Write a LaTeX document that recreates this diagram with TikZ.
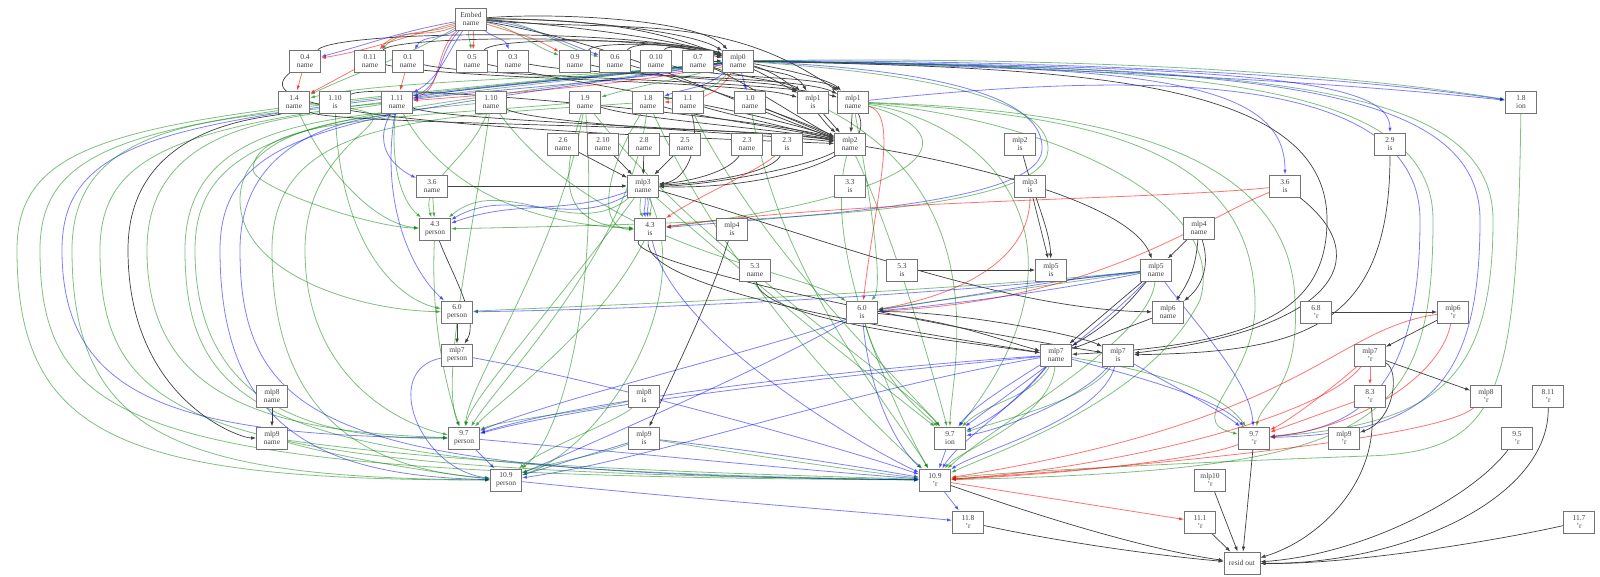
\documentclass[tikz,border=0pt]{standalone}
\usepackage{fontspec}
\setmainfont{Liberation Serif}
\usetikzlibrary{arrows.meta}
\pgfdeclarelayer{bg}
\pgfsetlayers{bg,main}
\newcommand\LLoop[6]{\draw[#1] (#2) .. controls ({#4+150},118) and ({#4},118) .. ({#4},#6) .. controls ({#4},{#5-40}) and ({#4+110},{#5}) .. (#3);}
\newcommand\RLoop[5]{\draw[#1] (#2) .. controls ({#4-250},68) and ({#4},78) .. ({#4},220) .. controls ({#4},{#5-40}) and ({#4-60},{#5}) .. (#3);}
\begin{document}
\begin{tikzpicture}[x=1pt,y=-1pt,
  bx/.style={draw=black!55, line width=0.8pt, fill=white, minimum width=31pt, minimum height=22pt, inner sep=0pt, align=center, font=\fontsize{7.5}{8.3}\selectfont, text=black!75},
  tip/.style={-{Latex[length=5pt,width=3.6pt]}},
  eK/.style={tip, draw=black!75, line width=0.7pt},
  eG/.style={tip, draw=green!50!black, line width=0.8pt, opacity=0.5},
  eB/.style={tip, draw=blue, line width=0.8pt, opacity=0.5},
  eR/.style={tip, draw=red, line width=0.8pt, opacity=0.55}]
\useasboundingbox (0,0) rectangle (1600,576);
% nodes
\node[bx] (E) at (471,19) {Embed\\name};
\node[bx] (n04) at (305,61) {0.4\\name};
\node[bx] (n011) at (370,61) {0.11\\name};
\node[bx] (n01) at (408,61) {0.1\\name};
\node[bx] (n05) at (472,61) {0.5\\name};
\node[bx] (n03) at (513,61) {0.3\\name};
\node[bx] (n09) at (575,61) {0.9\\name};
\node[bx] (n06) at (615,61) {0.6\\name};
\node[bx] (n010) at (656,61) {0.10\\name};
\node[bx] (n07) at (698,61) {0.7\\name};
\node[bx] (m0) at (738,61) {mlp0\\name};
\node[bx] (n14) at (294,102) {1.4\\name};
\node[bx] (n110i) at (335,102) {1.10\\is};
\node[bx] (n111) at (397,102) {1.11\\name};
\node[bx] (n110) at (491,102) {1.10\\name};
\node[bx] (n19) at (585,102) {1.9\\name};
\node[bx] (n18) at (648,102) {1.8\\name};
\node[bx] (n11) at (688,102) {1.1\\name};
\node[bx] (n10) at (750,102) {1.0\\name};
\node[bx] (m1i) at (813,102) {mlp1\\is};
\node[bx] (m1) at (853,102) {mlp1\\name};
\node[bx] (n18ion) at (1521,102) {1.8\\ion};
\node[bx] (n26) at (563,144) {2.6\\name};
\node[bx] (n210) at (603,144) {2.10\\name};
\node[bx] (n28) at (644,144) {2.8\\name};
\node[bx] (n25) at (685,144) {2.5\\name};
\node[bx] (n23) at (747,144) {2.3\\name};
\node[bx] (n23i) at (787,144) {2.3\\is};
\node[bx] (m2) at (850,144) {mlp2\\name};
\node[bx] (m2i) at (1020,144) {mlp2\\is};
\node[bx] (n29i) at (1390,144) {2.9\\is};
\node[bx] (n36) at (432,186) {3.6\\name};
\node[bx] (m3) at (643,186) {mlp3\\name};
\node[bx] (n33i) at (850,186) {3.3\\is};
\node[bx] (m3i) at (1030,186) {mlp3\\is};
\node[bx] (n36i) at (1285,186) {3.6\\is};
\node[bx] (n43p) at (435,229) {4.3\\person};
\node[bx] (n43i) at (650,229) {4.3\\is};
\node[bx] (m4i) at (732,229) {mlp4\\is};
\node[bx] (m4) at (1199,228) {mlp4\\name};
\node[bx] (n53) at (755,270) {5.3\\name};
\node[bx] (n53i) at (902,270) {5.3\\is};
\node[bx] (m5i) at (1051,270) {mlp5\\is};
\node[bx] (m5) at (1156,270) {mlp5\\name};
\node[bx] (n60p) at (457,312) {6.0\\person};
\node[bx] (n60i) at (862,312) {6.0\\is};
\node[bx] (m6) at (1168,312) {mlp6\\name};
\node[bx] (n68r) at (1316,312) {6.8\\'r};
\node[bx] (m6r) at (1453,312) {mlp6\\'r};
\node[bx] (m7p) at (457,355) {mlp7\\person};
\node[bx] (m7) at (1056,355) {mlp7\\name};
\node[bx] (m7i) at (1118,355) {mlp7\\is};
\node[bx] (m7r) at (1370,355) {mlp7\\'r};
\node[bx] (m8) at (272,396) {mlp8\\name};
\node[bx] (m8i) at (644,396) {mlp8\\is};
\node[bx] (n83r) at (1370,396) {8.3\\'r};
\node[bx] (m8r) at (1486,396) {mlp8\\'r};
\node[bx] (n811r) at (1548,396) {8.11\\'r};
\node[bx] (m9) at (272,438) {mlp9\\name};
\node[bx] (n97p) at (464,438) {9.7\\person};
\node[bx] (m9i) at (644,438) {mlp9\\is};
\node[bx] (n97ion) at (950,438) {9.7\\ion};
\node[bx] (n97r) at (1254,438) {9.7\\'r};
\node[bx] (m9r) at (1344,438) {mlp9\\'r};
\node[bx] (n95r) at (1517,438) {9.5\\'r};
\node[bx] (n109p) at (506,480) {10.9\\person};
\node[bx] (n109r) at (935,480) {10.9\\'r};
\node[bx] (m10r) at (1210,480) {mlp10\\'r};
\node[bx] (n118r) at (968,522) {11.8\\'r};
\node[bx] (n111r) at (1200,522) {11.1\\'r};
\node[bx] (n117r) at (1579,522) {11.7\\'r};
\node[bx, minimum width=36pt] (out) at (1242,563) {resid out};
\begin{pgfonlayer}{bg}
\fill[white] (0,0) rectangle (1600,576);
% Embed
\draw[eB] (E) to[out=190,in=15] (n04);
\draw[eR] (E) to[out=195,in=10] (n04);
\draw[eG] (E) to[out=200,in=45] (n011);
\draw[eR] (E) to[out=205,in=50] (n011);
\draw[eB] (E) to[out=215,in=60] (n01);
\draw[eG] (E) to[out=260,in=95] (n05);
\draw[eR] (E) to[out=280,in=85] (n05);
\draw[eB] (E) to[out=-40,in=110] (n03);
\draw[eG] (E) to[out=-12,in=160] (n09);
\draw[eR] (E) to[out=-18,in=150] (n09);
\draw[eB] (E) to[out=-6,in=160] (n06);
\draw[eG] (E) to[out=-2,in=165] (n06);
\draw[eB] (E) to[out=225,in=20] (n111);
\draw[eB] (E) to[out=235,in=30] (n111);
\draw[eR] (E) to[out=220,in=15] (n111);
\draw[eG] (E) to[out=210,in=25] (n14);
\draw[eK] (E) .. controls (560,12) and (700,20) .. (m0);
\draw[eK] (E) .. controls (560,18) and (690,30) .. (m0);
\draw[eK] (E) .. controls (560,24) and (680,40) .. (m0);
\draw[eK] (E) to[out=0,in=150] (m1i);
\draw[eK] (E) to[out=-5,in=145] (m1);
\draw[eK] (E) to[out=-10,in=160] (m2);
% row1 -> mlp0
\draw[eK] (n04) .. controls (340,30) and (640,28) .. (m0);
\draw[eK] (n011) .. controls (400,35) and (650,34) .. (m0);
\draw[eK] (n05) .. controls (500,35) and (690,40) .. (m0);
\draw[eK] (n09) .. controls (600,40) and (700,45) .. (m0);
\draw[eK] (n06) .. controls (640,38) and (700,50) .. (m0);
\draw[eK] (n010) .. controls (670,42) and (710,55) .. (m0);
\draw[eK] (n07) -- (m0);
% row1 -> mlp1 / mlp2
\draw[eK] (n04) .. controls (255,100) and (320,125) .. (m2);
\draw[eK] (n011) .. controls (450,80) and (740,80) .. (m1i);
\draw[eK] (n01) .. controls (480,78) and (780,80) .. (m1);
\draw[eK] (n05) .. controls (560,80) and (760,110) .. (m2);
\draw[eK] (n03) .. controls (600,78) and (800,75) .. (m1);
\draw[eK] (n09) .. controls (650,80) and (780,80) .. (m1i);
\draw[eK] (n06) .. controls (700,85) and (800,120) .. (m2);
\draw[eK] (n010) .. controls (720,80) and (820,75) .. (m1);
\draw[eK] (n07) .. controls (740,78) and (790,82) .. (m1i);
\draw[eK] (n07) .. controls (750,85) and (810,125) .. (m2);
\draw[eK] (m0) .. controls (790,70) and (830,80) .. (m1);
\draw[eK] (m0) to[out=-20,in=120] (m1i);
\draw[eK] (m0) .. controls (800,80) and (820,120) .. (m2);
% row2 -> mlp2
\draw[eK] (n14) .. controls (330,125) and (760,125) .. (m2);
\draw[eK] (n110i) .. controls (380,80) and (780,120) .. (m2);
\draw[eK] (n111) .. controls (450,122) and (780,130) .. (m2);
\draw[eK] (n110) .. controls (540,125) and (780,135) .. (m2);
\draw[eK] (n19) .. controls (640,120) and (790,130) .. (m2);
\draw[eK] (n18) .. controls (700,118) and (800,130) .. (m2);
\draw[eK] (n11) .. controls (730,115) and (800,130) .. (m2);
\draw[eK] (n10) -- (m2);
\draw[eK] (m1i) -- (m2);
\draw[eK] (m1) -- (m2);
% -> mlp3
\draw[eK] (n26) -- (m3);
\draw[eK] (n210) -- (m3);
\draw[eK] (n28) -- (m3);
\draw[eK] (n25) -- (m3);
\draw[eK] (n23) .. controls (730,170) and (700,180) .. (m3);
\draw[eK] (n23i) .. controls (770,175) and (700,183) .. (m3);
\draw[eK] (m2) .. controls (800,170) and (700,186) .. (m3);
\draw[eK] (n36) -- (m3);
\draw[eK] (n11) .. controls (700,140) and (690,180) .. (m3);
\draw[eK] (m1) .. controls (880,160) and (760,190) .. (m3);
% mlp0 -> row2 coloured
\draw[eB] (m0) .. controls (650,80) and (480,90) .. (n111);
\draw[eB] (m0) .. controls (640,75) and (470,85) .. (n111);
\draw[eR] (m0) .. controls (640,85) and (480,95) .. (n111);
\draw[eR] (n01) -- (n111);
\draw[eG] (m0) .. controls (700,75) and (640,85) .. (n19);
\draw[eB] (m0) to[out=220,in=20] (n18);
\draw[eG] (m0) to[out=230,in=10] (n18);
\draw[eR] (m0) to[out=240,in=0] (n18);
\draw[eB] (m0) -- (n10);
\draw[eG] (m0) .. controls (600,78) and (380,80) .. (n14);
\draw[eR] (n04) -- (n14);
\draw[eR] (n011) -- (n14);
% mlp0 far right
\draw[eB] (m0) .. controls (1000,60) and (1300,70) .. (n18ion);
\draw[eG] (m0) .. controls (1000,57) and (1300,66) .. (n18ion);
\draw[eB] (m0) .. controls (1000,66) and (1300,78) .. (n18ion);
\draw[eB] (m0) .. controls (1250,66) and (1390,80) .. (n29i);
\draw[eB] (m0) .. controls (1150,66) and (1285,80) .. (n36i);
\draw[eB] (m0) .. controls (950,70) and (1045,100) .. (1042,150) .. controls (1038,205) and (800,215) .. (n43i);
\draw[eG] (m0) .. controls (950,75) and (1050,105) .. (1048,150) .. controls (1045,210) and (800,222) .. (n43p);
\RLoop{eB}{m0}{n97r}{1480}{433}
\RLoop{eB}{m1}{n97r}{1420}{428}
\RLoop{eG}{m0}{n97r}{1493}{424}
\RLoop{eG}{m0}{n109r}{1433}{470}
\RLoop{eK}{m0}{m7}{1327}{345}
\draw[eK] (n29i) .. controls (1390,330) and (1300,352) .. (m7i);
\draw[eK] (n36i) .. controls (1380,260) and (1330,330) .. (m7i);
\draw[eG] (n18ion) .. controls (1517,400) and (1500,452) .. (1367,456) .. controls (1200,462) and (1000,472) .. (n109r);
% mlp1 bundle
\draw[eG] (m1) .. controls (1100,110) and (1290,150) .. (1295,300) .. controls (1300,390) and (1262,400) .. (n97r);
\draw[eG] (m1) .. controls (1100,115) and (1250,150) .. (1255,300) .. controls (1258,380) and (1180,420) .. (n97r);
\draw[eG] (m1) .. controls (1050,120) and (1230,200) .. (1200,300) .. controls (1150,400) and (1000,450) .. (n109r);
\draw[eG] (m1) .. controls (1000,125) and (1100,250) .. (n97ion);
\draw[eG] (m1) .. controls (960,130) and (960,190) .. (n43i);
\draw[eR] (m1) .. controls (900,115) and (875,200) .. (n60i);
\draw[eG] (m1) .. controls (880,250) and (880,290) .. (n60i);
% reds into 4.3 is / 6.0 is
\draw[eR] (n23i) .. controls (760,170) and (700,195) .. (n43i);
\draw[eR] (n36i) .. controls (1150,200) and (850,200) .. (n43i);
\draw[eR] (m3i) .. controls (1030,260) and (960,295) .. (n60i);
\draw[eR] (n36i) .. controls (1200,220) and (1100,300) .. (n60i);
% mlp3 -> 4.3
\draw[eB] (m3) to[out=200,in=20] (n43p);
\draw[eB] (m3) to[out=210,in=30] (n43p);
\draw[eG] (m3) to[out=220,in=40] (n43p);
\draw[eB] (m3) to[out=-80,in=110] (n43i);
\draw[eB] (m3) to[out=-70,in=100] (n43i);
\draw[eG] (m3) to[out=-60,in=90] (n43i);
\draw[eG] (m3) to[out=-100,in=120] (n43i);
\draw[eG] (n36) -- (n43p);
\draw[eG] (n14) .. controls (330,180) and (380,225) .. (n43p);
\draw[eG] (n111) .. controls (390,160) and (400,200) .. (n43p);
\draw[eG] (n110) .. controls (470,160) and (420,180) .. (n43p);
\draw[eG] (n111) .. controls (450,200) and (550,225) .. (n43i);
\draw[eG] (n19) .. controls (560,180) and (560,225) .. (n43i);
\draw[eG] (n18) .. controls (600,180) and (600,230) .. (n43i);
% 6.0
\draw[eB] (n111) .. controls (380,200) and (410,270) .. (n60p);
\draw[eB] (n111) .. controls (370,150) and (400,170) .. (n36);
\draw[eB] (m5) .. controls (900,300) and (600,310) .. (n60p);
\draw[eG] (m5) .. controls (900,295) and (600,305) .. (n60p);
\draw[eG] (n110i) .. controls (340,250) and (400,300) .. (n60p);
\draw[eB] (m5) .. controls (1050,280) and (950,300) .. (n60i);
\draw[eB] (m5) .. controls (1060,290) and (950,305) .. (n60i);
\draw[eG] (m5) .. controls (1050,285) and (940,300) .. (n60i);
\draw[eG] (n110) .. controls (600,250) and (800,270) .. (n60i);
% black middle
\draw[eK] (n43p) .. controls (450,270) and (480,320) .. (m7p);
\draw[eK] (n60p) -- (m7p);
\draw[eK] (n43i) .. controls (640,290) and (900,330) .. (m7);
\draw[eK] (n43i) .. controls (620,260) and (900,320) .. (m7i);
\draw[eK] (m4i) .. controls (710,300) and (680,360) .. (m9i);
\draw[eK] (n53) .. controls (760,320) and (950,340) .. (m7);
\draw[eK] (n53i) -- (m5i);
\draw[eK] (m2i) .. controls (1035,200) and (1050,230) .. (m5i);
\draw[eK] (m3i) -- (m5i);
\draw[eK] (m4) -- (m5);
\draw[eK] (m4) to[bend left=15] (m6);
\draw[eK] (m4) to[bend left=35] (m6);
\draw[eK] (m2) .. controls (950,160) and (1130,200) .. (m5);
\draw[eK] (m3) .. controls (800,230) and (1000,310) .. (m6);
\draw[eK] (m5) -- (m7);
\draw[eK] (m5) to[bend left=10] (m7);
\draw[eK] (m6) -- (m7);
\draw[eK] (n60i) .. controls (950,320) and (1000,340) .. (m7);
\draw[eK] (n60i) .. controls (950,310) and (1080,335) .. (m7i);
\draw[eK] (n68r) -- (m6r);
\draw[eK] (m6r) -- (m7r);
\draw[eK] (m7r) -- (m8r);
\draw[eK] (m7r) .. controls (1400,370) and (1395,420) .. (m9r);
\draw[eK] (m8) -- (m9);
\LLoop{eK}{n14}{m9}{128}{438}{250}
% resid out
\draw[eK] (n97r) -- (out);
\draw[eK] (m10r) -- (out);
\draw[eK] (n111r) -- (out);
\draw[eK] (n118r) .. controls (1050,540) and (1150,555) .. (out);
\draw[eK] (n109r) .. controls (1050,520) and (1150,550) .. (out);
\draw[eK] (n83r) .. controls (1380,480) and (1320,540) .. (out);
\draw[eK] (n95r) .. controls (1470,500) and (1360,555) .. (out);
\draw[eK] (n811r) .. controls (1550,500) and (1400,565) .. (out);
\draw[eK] (n117r) .. controls (1500,540) and (1350,565) .. (out);
% reds right
\draw[eR] (m6r) .. controls (1440,380) and (1350,430) .. (n97r);
\draw[eR] (m6r) .. controls (1330,330) and (1310,420) .. (n109r);
\draw[eR] (m7r) -- (n83r);
\draw[eR] (m7r) .. controls (1330,390) and (1290,420) .. (n97r);
\draw[eR] (n83r) -- (n97r);
\draw[eR] (m8r) .. controls (1440,440) and (1100,470) .. (n109r);
\draw[eR] (m7r) .. controls (1320,420) and (1100,470) .. (n109r);
\draw[eR] (n97r) .. controls (1200,460) and (1050,475) .. (n109r);
\draw[eR] (n109r) -- (n111r);
% lower middle
\draw[eB] (m7) .. controls (900,370) and (600,400) .. (n97p);
\draw[eB] (m7) .. controls (900,365) and (600,395) .. (n97p);
\draw[eB] (m7) .. controls (850,390) and (650,460) .. (n109p);
\draw[eB] (m7) .. controls (1000,390) and (970,410) .. (n97ion);
\draw[eB] (m7) .. controls (1020,400) and (990,420) .. (n97ion);
\draw[eG] (m7) .. controls (1030,400) and (990,400) .. (n97ion);
\draw[eB] (m7) .. controls (1010,410) and (960,440) .. (n109r);
\draw[eG] (m7) .. controls (1050,420) and (960,450) .. (n109r);
\draw[eB] (m7) .. controls (1150,380) and (1220,400) .. (n97r);
\draw[eG] (m7) .. controls (1150,370) and (1220,390) .. (n97r);
\draw[eB] (m7i) .. controls (1180,390) and (1220,410) .. (n97r);
\draw[eB] (m7i) .. controls (1080,400) and (1000,430) .. (n97ion);
\draw[eB] (m7i) .. controls (1100,420) and (980,450) .. (n109r);
\draw[eG] (m7i) .. controls (1090,400) and (1000,420) .. (n97ion);
\draw[eB] (m5) .. controls (1200,330) and (1250,380) .. (n97r);
\draw[eB] (m5) .. controls (1100,330) and (1000,400) .. (n97ion);
\draw[eG] (m5) .. controls (1150,340) and (1000,420) .. (n109r);
\draw[eB] (n60i) .. controls (870,400) and (900,450) .. (n109r);
\draw[eB] (n60i) .. controls (800,340) and (550,400) .. (n97p);
\draw[eB] (n60i) .. controls (780,360) and (600,440) .. (n109p);
\draw[eG] (n60i) .. controls (880,380) and (920,410) .. (n97ion);
\draw[eB] (n43i) .. controls (670,330) and (850,440) .. (n109r);
\draw[eB] (m7p) .. controls (380,370) and (420,470) .. (n109p);
\draw[eB] (m7p) .. controls (600,380) and (850,450) .. (n109r);
\draw[eB] (n97p) -- (n109p);
\draw[eB] (n97p) .. controls (600,450) and (800,470) .. (n109r);
\draw[eB] (n97ion) -- (n109r);
\draw[eB] (m9i) -- (n109p);
\draw[eG] (m9i) .. controls (600,455) and (540,465) .. (n109p);
\draw[eB] (m9i) .. controls (750,450) and (850,465) .. (n109r);
\draw[eG] (m9i) .. controls (750,455) and (850,470) .. (n109r);
\draw[eG] (m8i) .. controls (620,420) and (540,450) .. (n109p);
\draw[eG] (m8i) .. controls (600,410) and (500,420) .. (n97p);
\draw[eG] (m9) .. controls (350,460) and (450,475) .. (n109p);
\draw[eG] (m9) .. controls (500,470) and (800,475) .. (n109r);
\draw[eB] (n109p) .. controls (700,500) and (900,515) .. (n118r);
\draw[eB] (n109r) -- (n118r);
% greens from upper rows
\draw[eG] (n19) .. controls (560,250) and (470,380) .. (n97p);
\draw[eG] (n18) .. controls (630,250) and (500,380) .. (n97p);
\draw[eG] (n110) .. controls (470,250) and (440,380) .. (n97p);
\draw[eG] (n43p) .. controls (430,330) and (450,400) .. (n97p);
\draw[eG] (n43i) .. controls (600,330) and (500,400) .. (n97p);
\draw[eG] (m3) .. controls (560,300) and (470,400) .. (n97p);
\draw[eG] (n19) .. controls (600,300) and (560,440) .. (n109p);
\draw[eG] (m3) .. controls (700,300) and (600,450) .. (n109p);
\draw[eG] (n11) .. controls (760,250) and (900,380) .. (n97ion);
\draw[eG] (n19) .. controls (700,250) and (900,380) .. (n97ion);
\draw[eG] (m3) .. controls (750,280) and (900,400) .. (n97ion);
\draw[eG] (n18) .. controls (740,300) and (880,430) .. (n109r);
\draw[eG] (n10) .. controls (780,280) and (900,420) .. (n109r);
\draw[eG] (m2) .. controls (820,250) and (900,420) .. (n109r);
\draw[eG] (m2) .. controls (900,250) and (940,400) .. (n97ion);
\draw[eG] (m1i) .. controls (1000,200) and (950,380) .. (n97ion);
% left loops
\LLoop{eG}{m0}{n109p}{17}{480}{250}
\LLoop{eG}{m0}{n109r}{40}{476}{250}
\LLoop{eB}{m0}{n97p}{62}{436}{250}
\LLoop{eG}{n111}{n109p}{72}{478}{250}
\LLoop{eG}{m0}{n109r}{100}{472}{250}
\LLoop{eG}{n111}{n97p}{147}{432}{250}
\LLoop{eG}{n110}{n109r}{185}{470}{250}
\LLoop{eG}{m0}{n97p}{195}{440}{250}
\LLoop{eB}{m0}{n109p}{220}{476}{250}
\LLoop{eB}{n111}{n109r}{240}{474}{250}
\LLoop{eG}{n111}{n60p}{240}{310}{200}
\LLoop{eG}{n19}{n43p}{253}{226}{170}
\LLoop{eG}{n18}{n109p}{272}{470}{250}
\LLoop{eG}{n14}{n97p}{305}{428}{250}
\end{pgfonlayer}
\end{tikzpicture}
\end{document}
